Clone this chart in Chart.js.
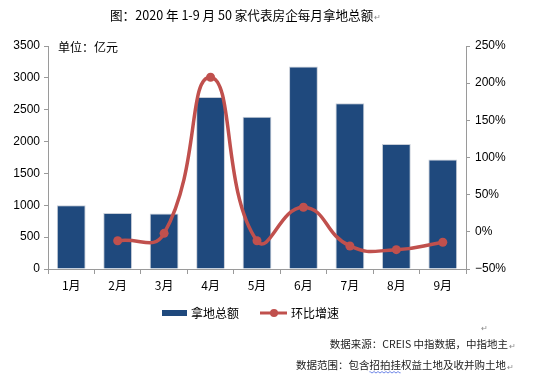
<!DOCTYPE html>
<html><head><meta charset="utf-8">
<script src="https://cdn.jsdelivr.net/npm/chart.js@4/dist/chart.umd.min.js"></script>
<style>html,body{margin:0;padding:0;background:#fff;}#wrap{position:relative;width:554px;height:380px;}</style>
</head><body><div id="wrap"><canvas id="c" width="554" height="380"></canvas></div>
<script>
const months = ['1月','2月','3月','4月','5月','6月','7月','8月','9月'];
const landTotal = [1000, 880, 870, 2700, 2390, 3180, 2600, 1960, 1720];
const momGrowth = [null, -12, -2, 208, -12, 33, -19, -24, -14];
const leftTicks = [0, 3500, 500];
const rightTicks = [-50, 250, 50];
const titleText = '图：2020 年 1-9 月 50 家代表房企每月拿地总额';
const unitText = '单位：亿元';
const seriesNames = ['拿地总额', '环比增速'];
const sourceText = '数据来源：CREIS 中指数据，中指地主';
const rangeText = '数据范围：包含招拍挂权益土地及收并购土地';

const BLUE = '#1F497D', RED = '#C0504D', AXIS = '#9a9a9a';
const NUMF = '"Liberation Sans", Arial, sans-serif';
const CJK = '"Noto Sans CJK SC", sans-serif';

const textPlugin = {
  id: 'texts',
  afterDraw(chart) {
    const ctx = chart.ctx;
    ctx.save();
    ctx.fillStyle = '#000';
    ctx.textBaseline = 'middle';
    ctx.textAlign = 'left';
    ctx.font = '12.6px ' + CJK;
    ctx.fillText(titleText, 110, 15);
    const tw = ctx.measureText(titleText).width;
    ctx.fillStyle = '#888';
    ctx.font = '8px ' + CJK;
    ctx.fillText('↵', 110 + tw + 1, 17);
    ctx.fillStyle = '#000';
    ctx.font = '12px ' + CJK;
    ctx.fillText(unitText, 58, 47);
    // legend
    ctx.fillStyle = BLUE;
    ctx.fillRect(162, 310, 25, 6);
    ctx.fillStyle = '#000';
    ctx.font = '12px ' + CJK;
    ctx.fillText(seriesNames[0], 191, 313);
    ctx.strokeStyle = RED; ctx.lineWidth = 3;
    ctx.beginPath(); ctx.moveTo(260, 313); ctx.lineTo(287, 313); ctx.stroke();
    ctx.fillStyle = RED;
    ctx.beginPath(); ctx.arc(274, 313, 4, 0, Math.PI*2); ctx.fill();
    ctx.fillStyle = '#000';
    ctx.fillText(seriesNames[1], 291, 313);
    // footer
    ctx.fillStyle = '#222';
    ctx.font = '10.5px ' + CJK;
    ctx.textAlign = 'right';
    ctx.fillText(sourceText, 508, 344);
    ctx.fillText(rangeText, 506, 365);
    const rw = ctx.measureText(rangeText).width;
    // spell-check style wavy underline under 招拍挂
    const pre = ctx.measureText('数据范围：包含').width;
    const seg = ctx.measureText('招拍挂').width;
    const ux = 506 - rw + pre;
    ctx.strokeStyle = '#3355dd'; ctx.lineWidth = 0.8;
    ctx.beginPath();
    for (let x = 0; x <= seg; x += 1) {
      const y = 372 + (Math.floor(x/2) % 2 ? 0.8 : -0.2);
      if (x === 0) ctx.moveTo(ux + x, y); else ctx.lineTo(ux + x, y);
    }
    ctx.stroke();
    ctx.textAlign = 'left';
    ctx.fillStyle = '#888';
    ctx.font = '8px ' + CJK;
    ctx.fillText('↵', 509, 346);
    ctx.fillText('↵', 507, 367);
    ctx.fillText('↵', 481, 328);
    ctx.restore();
  }
};

new Chart(document.getElementById('c'), {
  data: {
    labels: months,
    datasets: [
      { type: 'line', label: seriesNames[1], data: momGrowth, yAxisID: 'y2',
        borderColor: RED, backgroundColor: RED, borderWidth: 3.5, tension: 0.5,
        pointRadius: 4.5, pointBackgroundColor: RED, pointBorderWidth: 0, order: 0 },
      { type: 'bar', label: seriesNames[0], data: landTotal, yAxisID: 'y',
        backgroundColor: BLUE, borderColor: '#c8ced8', borderWidth: 1,
        barPercentage: 0.62, categoryPercentage: 1, order: 1 }
    ]
  },
  options: {
    responsive: false, animation: false, devicePixelRatio: 1,
    layout: { padding: { top: 46, left: 0, right: 0, bottom: 0 } },
    plugins: { legend: { display: false }, tooltip: { enabled: false }, title: { display: false } },
    scales: {
      x: {
        grid: { drawOnChartArea: false, tickLength: 5, color: AXIS, offset: true },
        border: { color: AXIS, width: 1 },
        ticks: { color: '#000', font: { family: CJK, size: 12 }, padding: 4 },
        afterFit(s) { s.height = 111; }
      },
      y: {
        position: 'left', min: leftTicks[0], max: leftTicks[1],
        grid: { drawOnChartArea: false, tickLength: 4, color: AXIS },
        border: { color: AXIS, width: 1 },
        ticks: { stepSize: leftTicks[2], color: '#000', font: { family: NUMF, size: 12 }, padding: 4,
                 callback: v => String(v) },
        afterFit(s) { s.width = 48; }
      },
      y2: {
        position: 'right', min: rightTicks[0], max: rightTicks[1],
        grid: { drawOnChartArea: false, tickLength: 4, color: AXIS },
        border: { color: AXIS, width: 1 },
        ticks: { stepSize: rightTicks[2], color: '#000', font: { family: NUMF, size: 12 }, padding: 5,
                 callback: v => (v < 0 ? '\u2212' + Math.abs(v) : v) + '%' },
        afterFit(s) { s.width = 88; }
      }
    }
  },
  plugins: [textPlugin]
});
</script></body></html>
